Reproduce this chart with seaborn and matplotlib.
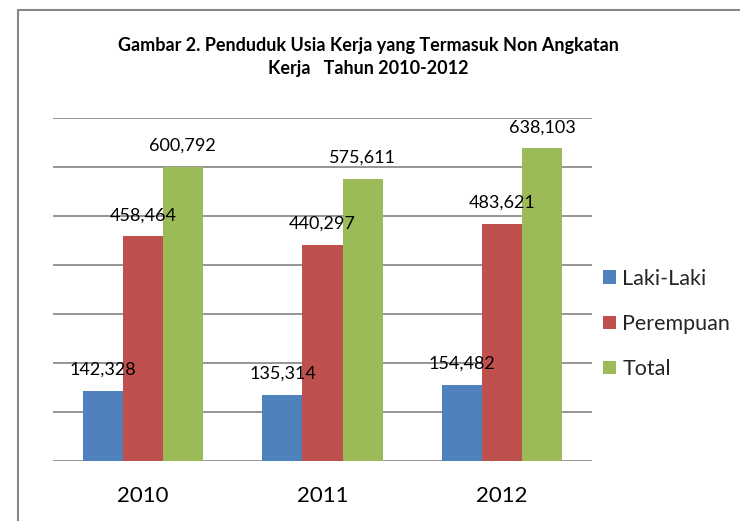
import matplotlib
matplotlib.use('Agg')
import matplotlib.pyplot as plt
import seaborn as sns
import pandas as pd
from matplotlib.patches import Patch, Rectangle

years = ['2010', '2011', '2012']
series = ['Laki-Laki', 'Perempuan', 'Total']
laki = [142328, 135314, 154482]
perempuan = [458464, 440297, 483621]
total = [600792, 575611, 638103]
colors = ['#4F81BD', '#C0504D', '#9BBB59']
values = [laki, perempuan, total]

df = pd.DataFrame({
    'Tahun': [y for _ in series for y in years],
    'Seri': [s for s in series for _ in years],
    'Nilai': laki + perempuan + total,
})

sns.set_theme(style='white')
plt.rcParams['font.family'] = ['Lato', 'DejaVu Sans']

fig = plt.figure(figsize=(7.4, 5.21), dpi=100)
W, H = 740, 521
ax = fig.add_axes([53 / W, 1 - 461 / H, (592 - 53) / W, (461 - 118) / H])
sns.barplot(data=df, x='Tahun', y='Nilai', hue='Seri', palette=colors,
            width=0.668, saturation=1, linewidth=0, ax=ax, legend=False)

ax.set_ylim(0, 700000)
ax.set_yticks(range(0, 700001, 100000))
ax.set_yticklabels([])
ax.yaxis.grid(True, color='#8c8c8c', linewidth=1.3)
ax.set_axisbelow(True)
for sp in ax.spines.values():
    sp.set_visible(False)
ax.tick_params(axis='both', length=0)
ax.tick_params(axis='x', labelsize=16, pad=18, labelcolor='black')
ax.set_xlabel('')
ax.set_ylabel('')

for cont, vals in zip(ax.containers, values):
    ax.bar_label(cont, labels=[f'{v:,}' for v in vals], padding=9.5,
                 fontsize=13, color='black')

handles = [Patch(facecolor=c, edgecolor='none', label=s) for s, c in zip(series, colors)]
fig.legend(handles=handles, loc='center left', bbox_to_anchor=(603 / W, 1 - 324 / H),
           frameon=False, fontsize=15.5, handlelength=0.6, handleheight=0.6,
           handletextpad=0.3, labelspacing=1.17, borderpad=0, borderaxespad=0)

fig.text(368 / W, 1 - 57 / H,
         'Gambar 2. Penduduk Usia Kerja yang Termasuk Non Angkatan\nKerja   Tahun 2010-2012',
         ha='center', va='center', fontweight='bold', fontsize=13.0, linespacing=1.38,
         color='black')

fig.add_artist(Rectangle((18 / W, -0.1), 1.2, 1 - 10 / H + 0.1, transform=fig.transFigure,
                         fill=False, edgecolor='#868686', linewidth=1.5))

fig.savefig('out.png', dpi=100)
